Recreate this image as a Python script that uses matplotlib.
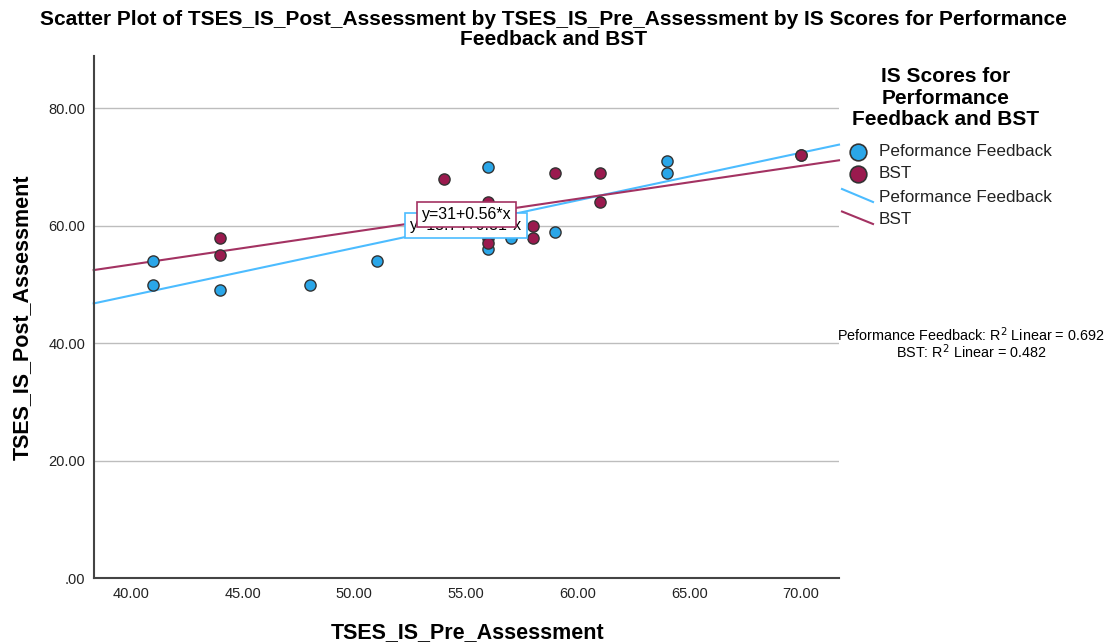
import matplotlib.pyplot as plt
from matplotlib.lines import Line2D
import numpy as np

plt.rcParams['font.family'] = ['Liberation Sans', 'DejaVu Sans']

# Peformance Feedback group (sic, as in the source chart)
pf_pre = [41, 41, 44, 48, 51, 56, 56, 57, 59, 64, 64, 70]
pf_post = [54, 50, 49, 50, 54, 70, 56, 58, 59, 71, 69, 72]
# BST group
bst_pre = [44, 44, 54, 56, 56, 56, 58, 58, 59, 61, 61, 70]
bst_post = [58, 55, 68, 64, 58, 57, 60, 58, 69, 69, 64, 72]

# fit lines (intercept, slope) and R^2 as printed on the chart
pf_fit = (15.74, 0.81)
bst_fit = (31, 0.56)
pf_r2 = 0.692
bst_r2 = 0.482

x_ticks = [40, 45, 50, 55, 60, 65, 70]
y_ticks = [0, 20, 40, 60, 80]

blue = '#2AA6E8'
maroon = '#9A1A4E'
blue_line = '#4CBCFF'
maroon_line = '#A33262'

fig = plt.figure(figsize=(11.07, 6.44), dpi=100)
ax = fig.add_axes([0.0846, 0.102, 0.6733, 0.811])

xlim = (38.33, 71.7)
ylim = (0, 88.9)

ax.set_xlim(*xlim)
ax.set_ylim(*ylim)

for y in y_ticks[1:]:
    ax.axhline(y, color='#bdbdbd', lw=1, zorder=0)

xs = np.array(xlim)
ax.plot(xs, pf_fit[0] + pf_fit[1] * xs, color=blue_line, lw=1.5, zorder=2, clip_on=False)
ax.plot(xs, bst_fit[0] + bst_fit[1] * xs, color=maroon_line, lw=1.5, zorder=2, clip_on=False)

ax.scatter(pf_pre, pf_post, s=65, color=blue, edgecolor='#333333', lw=1, zorder=3)
ax.scatter(bst_pre, bst_post, s=65, color=maroon, edgecolor='#333333', lw=1, zorder=4)

# equation labels (the BST box sits over the other one, as in the original)
ax.text(55.0, 60.1, 'y=%.2f+%.2f*x' % pf_fit, fontsize=11.5, ha='center', va='center', zorder=5,
        bbox=dict(boxstyle='square,pad=0.3', fc='white', ec=blue_line, lw=1.2))
ax.text(55.04, 61.9, 'y=%g+%g*x' % bst_fit, fontsize=11.5, ha='center', va='center', zorder=6,
        bbox=dict(boxstyle='square,pad=0.3', fc='white', ec=maroon_line, lw=1.2))

ax.set_xticks(x_ticks)
ax.set_xticklabels(['%.2f' % v for v in x_ticks])
ax.set_yticks(y_ticks)
ax.set_yticklabels(['.00' if v == 0 else '%.2f' % v for v in y_ticks])
ax.tick_params(length=0, labelsize=10.5, pad=6, colors='#222222')

for side in ['top', 'right']:
    ax.spines[side].set_visible(False)
for side in ['left', 'bottom']:
    ax.spines[side].set_color('#444444')
    ax.spines[side].set_linewidth(1.5)

ax.set_xlabel('TSES_IS_Pre_Assessment', fontsize=15.5, fontweight='bold')
ax.set_ylabel('TSES_IS_Post_Assessment', fontsize=15.5, fontweight='bold')
ax.xaxis.set_label_coords(0.502, -0.1047)
ax.yaxis.set_label_coords(-0.0962, 0.5)
ax.xaxis.label.set_va('center')
ax.yaxis.label.set_va('center')

fig.suptitle('Scatter Plot of TSES_IS_Post_Assessment by TSES_IS_Pre_Assessment by IS Scores for Performance\nFeedback and BST',
             fontsize=15, fontweight='bold', y=0.984, linespacing=1.05)

# legend, drawn in figure pixels
W, H = 1107, 644
def fx(px):
    return px / W
def fy(py):
    return 1 - py / H

fig.text(fx(946), fy(98), 'IS Scores for\nPerformance\nFeedback and BST', fontsize=15, fontweight='bold',
         ha='center', va='center', linespacing=1.18)
fig.add_artist(Line2D([fx(858)], [fy(152)], marker='o', ms=12, mfc=blue, mec='#333333', mew=1.2, ls=''))
fig.add_artist(Line2D([fx(858)], [fy(174)], marker='o', ms=12, mfc=maroon, mec='#333333', mew=1.2, ls=''))
fig.add_artist(Line2D([fx(842), fx(873)], [fy(189), fy(202)], color=blue_line, lw=1.5))
fig.add_artist(Line2D([fx(842), fx(873)], [fy(211.5), fy(224)], color=maroon_line, lw=1.5))
for py, label in [(152, 'Peformance Feedback'), (174, 'BST'), (197, 'Peformance Feedback'), (219, 'BST')]:
    fig.text(fx(879), fy(py), label, fontsize=12.3, ha='left', va='center', color='#222222')

fig.text(fx(971), fy(335), 'Peformance Feedback: R$^2$ Linear = %.3f' % pf_r2, fontsize=10.4, ha='center', va='center')
fig.text(fx(971), fy(352), 'BST: R$^2$ Linear = %.3f' % bst_r2, fontsize=10.4, ha='center', va='center')

fig.savefig('out.png', dpi=100)
